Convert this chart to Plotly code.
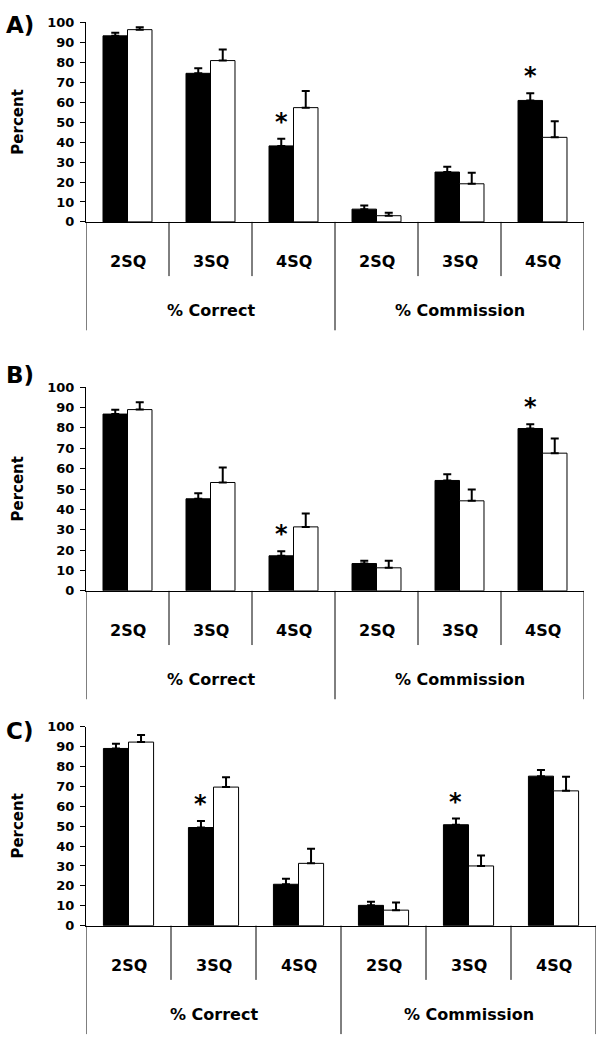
import plotly.graph_objects as go

# ---------------- data ----------------
SUB_LABELS = ["2SQ", "3SQ", "4SQ", "2SQ", "3SQ", "4SQ"]
GROUP_LABELS = ["% Correct", "% Commission"]
PANELS = ["A)", "B)", "C)"]

a_black = [93.3, 74.5, 38.1, 6.4, 25.0, 60.9]
a_black_err = [1.6, 2.6, 3.6, 1.8, 2.6, 3.6]
a_white = [96.4, 80.9, 57.3, 3.1, 19.1, 42.4]
a_white_err = [1.2, 5.6, 8.4, 1.5, 5.6, 8.1]
a_sig = [False, False, True, False, False, True]

b_black = [86.8, 45.2, 17.2, 13.4, 54.2, 79.7]
b_black_err = [2.1, 2.7, 2.2, 1.4, 3.1, 2.1]
b_white = [89.0, 53.2, 31.4, 11.3, 44.2, 67.6]
b_white_err = [3.6, 7.4, 6.6, 3.5, 5.6, 7.2]
b_sig = [False, False, True, False, False, True]

c_black = [89.0, 49.3, 20.8, 10.2, 50.7, 75.1]
c_black_err = [2.4, 3.3, 2.8, 1.8, 3.1, 3.1]
c_white = [92.2, 69.6, 31.3, 7.8, 30.0, 67.7]
c_white_err = [3.5, 5.0, 7.3, 3.8, 5.3, 7.1]
c_sig = [False, True, False, False, True, False]

# ---------------- layout geometry ----------------
W, H = 601, 1049
FONT = "DejaVu Sans"
BARGAP = 0.41

# pixel geometry of each panel: (x_left, x_right, y_top(100), y_zero, letter_y)
geom = [
    (86, 584, 15.7, 218.0, 18),
    (86, 584, 385.7, 592.3, 373),
    (86, 596, 730.0, 932.0, 735),
]

panels = [
    (a_black, a_black_err, a_white, a_white_err, a_sig),
    (b_black, b_black_err, b_white, b_white_err, b_sig),
    (c_black, c_black_err, c_white, c_white_err, c_sig),
]

fig = go.Figure()
annotations = []
shapes = []
xs = list(range(len(SUB_LABELS)))

for i, ((blk, blk_e, wht, wht_e, sig), (xl, xr, yt, yz, ly)) in enumerate(zip(panels, geom)):
    n = "" if i == 0 else str(i + 1)
    xa, ya = "x" + n, "y" + n
    dom_h = yz - yt
    fig.add_trace(go.Bar(
        x=xs, y=blk, xaxis=xa, yaxis=ya, name="black",
        marker=dict(color="black", line=dict(color="black", width=1)),
        error_y=dict(type="data", symmetric=False, array=blk_e,
                     arrayminus=[0] * len(blk), color="black", thickness=2, width=4),
        showlegend=False, offsetgroup="1", hoverinfo="skip"))
    fig.add_trace(go.Bar(
        x=xs, y=wht, xaxis=xa, yaxis=ya, name="white",
        marker=dict(color="white", line=dict(color="black", width=1)),
        error_y=dict(type="data", symmetric=False, array=wht_e,
                     arrayminus=[0] * len(wht), color="black", thickness=2, width=4),
        showlegend=False, offsetgroup="2", hoverinfo="skip"))

    fig.layout["xaxis" + n] = dict(
        domain=[xl / W, xr / W], anchor=ya, range=[-0.5, len(xs) - 0.5],
        showline=True, linecolor="black", linewidth=1, showticklabels=False,
        ticks="", showgrid=False, zeroline=False, fixedrange=True)
    fig.layout["yaxis" + n] = dict(
        domain=[1 - yz / H, 1 - yt / H], anchor=xa, range=[0, 100], dtick=10,
        showline=True, linecolor="black", linewidth=1, ticks="outside",
        ticklen=5, tickcolor="black", showgrid=False, zeroline=False,
        tickfont=dict(family=FONT, size=13, color="black", weight="bold"),
        ticklabelstandoff=3, fixedrange=True)

    yd = ya + " domain"
    # category separators
    for k in range(len(xs) + 1):
        outer = k % 3 == 0
        shapes.append(dict(type="line", xref=xa, yref=yd, x0=k - 0.5, x1=k - 0.5,
                           y0=0, y1=-(110 if outer else 55) / dom_h,
                           line=dict(color="black", width=1)))
    for k, lab in enumerate(SUB_LABELS):
        annotations.append(dict(x=k, y=-40 / dom_h, xref=xa, yref=yd, text=lab,
                                showarrow=False, yanchor="middle",
                                font=dict(family=FONT, size=16, color="black", weight="bold")))
    for g, lab in enumerate(GROUP_LABELS):
        annotations.append(dict(x=1 + 3 * g, y=-90 / dom_h, xref=xa, yref=yd, text=lab,
                                showarrow=False, yanchor="middle",
                                font=dict(family=FONT, size=16, color="black", weight="bold")))
    # significance stars above the black bars
    off = (1 - BARGAP) / 4
    for k, s in enumerate(sig):
        if s:
            annotations.append(dict(x=k - off, y=blk[k] + blk_e[k], xref=xa, yref=ya,
                                    text="*", showarrow=False, yanchor="bottom", yshift=1,
                                    font=dict(family=FONT, size=24, color="black", weight="bold")))
    # y title
    annotations.append(dict(x=18.5 / W, y=1 - (yt + yz) / 2 / H, xref="paper", yref="paper",
                            text="Percent", textangle=-90, showarrow=False,
                            xanchor="center", yanchor="middle",
                            font=dict(family=FONT, size=15, color="black", weight="bold")))
    # panel letter
    annotations.append(dict(x=4 / W, y=1 - ly / H, xref="paper", yref="paper",
                            text=PANELS[i], showarrow=False, xanchor="left", yanchor="middle",
                            font=dict(family=FONT, size=23, color="black", weight="bold")))

fig.update_layout(
    width=W, height=H, margin=dict(l=0, r=0, t=0, b=0),
    paper_bgcolor="white", plot_bgcolor="white",
    barmode="group", bargap=BARGAP, bargroupgap=0,
    font=dict(family=FONT, color="black"),
    annotations=annotations, shapes=shapes, hovermode=False,
)

fig.write_html(
    "out.html",
    config={"displayModeBar": False, "staticPlot": True},
    post_script="document.body.style.margin='0';document.body.style.overflow='hidden';",
)
